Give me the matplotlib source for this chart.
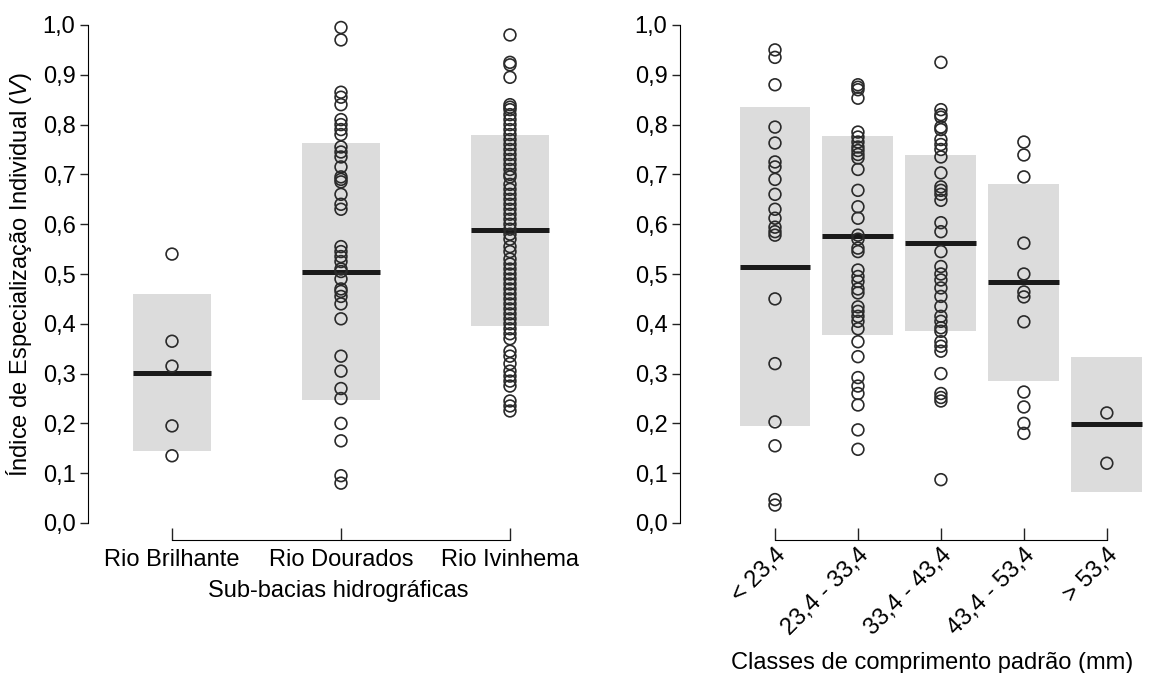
import matplotlib.pyplot as plt
import numpy as np

plt.rcParams['font.family'] = ['Liberation Sans', 'DejaVu Sans']
plt.rcParams['mathtext.fontset'] = 'custom'
plt.rcParams['mathtext.rm'] = 'Liberation Sans'
plt.rcParams['mathtext.it'] = 'Liberation Sans:italic'

# sub-bacias (painel esquerdo)
bacias = ["Rio Brilhante", "Rio Dourados", "Rio Ivinhema"]
v_brilhante = [0.54, 0.365, 0.315, 0.195, 0.135]
v_dourados = [0.995, 0.97, 0.865, 0.855, 0.84, 0.81, 0.80, 0.79, 0.78, 0.755, 0.745,
              0.735, 0.715, 0.695, 0.69, 0.685, 0.66, 0.64, 0.63, 0.555, 0.545, 0.535,
              0.525, 0.51, 0.505, 0.49, 0.47, 0.465, 0.455, 0.44, 0.41, 0.335, 0.305,
              0.27, 0.25, 0.2, 0.165, 0.095, 0.08]
v_ivinhema = [0.98, 0.925, 0.92, 0.895, 0.84, 0.835, 0.83, 0.82, 0.81, 0.80, 0.79, 0.78,
              0.77, 0.76, 0.75, 0.74, 0.73, 0.72, 0.71, 0.70, 0.695, 0.68, 0.67, 0.66,
              0.65, 0.64, 0.63, 0.62, 0.61, 0.60, 0.59, 0.58, 0.57, 0.555, 0.545, 0.53,
              0.52, 0.51, 0.50, 0.49, 0.48, 0.47, 0.46, 0.45, 0.44, 0.43, 0.42, 0.41,
              0.40, 0.39, 0.38, 0.37, 0.345, 0.335, 0.32, 0.305, 0.295, 0.285, 0.275,
              0.245, 0.235, 0.225]
media_bacias = [0.302, 0.505, 0.588]
dp_bacias = [0.158, 0.258, 0.192]

# classes de comprimento (painel direito)
classes = ["< 23,4", "23,4 - 33,4", "33,4 - 43,4", "43,4 - 53,4", "> 53,4"]
v_c1 = [0.95, 0.935, 0.88, 0.795, 0.763, 0.725, 0.715, 0.69, 0.66, 0.63, 0.612, 0.594,
        0.585, 0.578, 0.45, 0.32, 0.203, 0.155, 0.047, 0.036]
v_c2 = [0.88, 0.875, 0.87, 0.853, 0.785, 0.775, 0.765, 0.755, 0.748, 0.74, 0.733, 0.71,
        0.668, 0.635, 0.612, 0.578, 0.57, 0.552, 0.545, 0.508, 0.495, 0.485, 0.47, 0.462,
        0.434, 0.425, 0.415, 0.405, 0.39, 0.364, 0.334, 0.292, 0.275, 0.26, 0.237, 0.187,
        0.148]
v_c3 = [0.925, 0.83, 0.82, 0.815, 0.795, 0.79, 0.77, 0.76, 0.75, 0.735, 0.703, 0.675,
        0.668, 0.66, 0.648, 0.603, 0.585, 0.545, 0.515, 0.50, 0.488, 0.472, 0.455, 0.435,
        0.415, 0.405, 0.392, 0.385, 0.364, 0.355, 0.345, 0.30, 0.26, 0.252, 0.245, 0.087]
v_c4 = [0.765, 0.739, 0.695, 0.562, 0.50, 0.464, 0.454, 0.404, 0.263, 0.233, 0.2, 0.18]
v_c5 = [0.221, 0.12]
media_classes = [0.515, 0.577, 0.562, 0.483, 0.198]
dp_classes = [0.32, 0.2, 0.176, 0.198, 0.135]

yticks = np.arange(0, 1.01, 0.1)
FS = 17


def painel(ax, grupos, medias, dps, largura):
    x = np.arange(len(grupos))
    ax.bar(x, 2 * np.array(dps), bottom=np.array(medias) - np.array(dps),
           width=largura, color='#dcdcdc', zorder=1)
    ax.hlines(medias, x - largura / 2, x + largura / 2, color='#1a1a1a', lw=3.6, zorder=2)
    for i, vals in enumerate(grupos):
        ax.scatter([i] * len(vals), vals, s=72, facecolors='none', edgecolors='#2a2a2a',
                   linewidths=1.2, clip_on=False, zorder=3)
    ax.set_ylim(0, 1)
    ax.set_yticks(yticks)
    ax.set_yticklabels([f"{v:.1f}".replace('.', ',') for v in yticks])
    ax.set_xticks(x)
    for s in ['top', 'right']:
        ax.spines[s].set_visible(False)
    ax.spines['left'].set_bounds(0, 1)
    ax.spines['bottom'].set_bounds(0, len(grupos) - 1)
    ax.spines['bottom'].set_position(('outward', 12))
    ax.tick_params(labelsize=FS, length=6, width=1, color='#222222', pad=3)
    ax.tick_params(axis='x', direction='in', length=9)


fig = plt.figure(figsize=(11.51, 6.73), dpi=100)

ax1 = fig.add_axes([88 / 1151, 150 / 673, 472 / 1151, 498 / 673])
painel(ax1, [v_brilhante, v_dourados, v_ivinhema], media_bacias, dp_bacias, 0.46)
ax1.set_xlim(-0.497, 2.296)
ax1.set_xticklabels(bacias)
ax1.tick_params(axis='x', pad=7)
ax1.set_xlabel("Sub-bacias hidrográficas", fontsize=FS, labelpad=6, x=0.53)
ax1.set_ylabel("Índice de Especialização Individual ($\\mathit{V}$)", fontsize=FS, labelpad=6)

ax2 = fig.add_axes([680 / 1151, 150 / 673, 465 / 1151, 498 / 673])
painel(ax2, [v_c1, v_c2, v_c3, v_c4, v_c5], media_classes, dp_classes, 0.855)
ax2.set_xlim(-1.145, 4.46)
ax2.set_xticklabels(classes, rotation=45, ha='right', rotation_mode='anchor')
ax2.tick_params(axis='x', pad=3)
ax2.set_xlabel("Classes de comprimento padrão (mm)", fontsize=FS, labelpad=9, x=0.542)

fig.savefig('out.png', dpi=100)
